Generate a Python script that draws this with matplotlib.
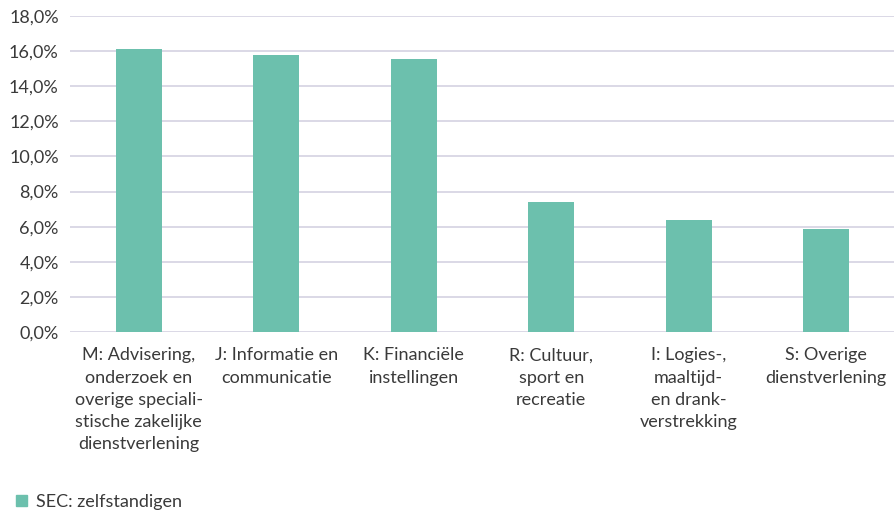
import matplotlib.pyplot as plt
from matplotlib.ticker import FuncFormatter
from matplotlib.patches import Patch

# categories (with the line breaks as in the source chart)
categories = [
    "M: Advisering,\nonderzoek en\noverige speciali-\nstische zakelijke\ndienstverlening",
    "J: Informatie en\ncommunicatie",
    "K: Financiële\ninstellingen",
    "R: Cultuur,\nsport en\nrecreatie",
    "I: Logies-,\nmaaltijd-\nen drank-\nverstrekking",
    "S: Overige\ndienstverlening",
]
values = [16.1, 15.8, 15.55, 7.4, 6.4, 5.85]
series_name = "SEC: zelfstandigen"

bar_color = "#6cc0ad"
text_color = "#3a3a3a"
grid_color = "#d8d6e4"

plt.rcParams["font.family"] = ["Lato", "DejaVu Sans"]

fig = plt.figure(figsize=(8.95, 5.11), dpi=100)
ax = fig.add_axes([0.078, 0.350, 0.922, 0.619])

x = range(len(categories))
ax.bar(x, values, width=0.335, color=bar_color, zorder=3)

ax.set_xlim(-0.5, len(categories) - 0.5)
ax.set_ylim(0, 18)
ax.set_yticks([0, 2, 4, 6, 8, 10, 12, 14, 16, 18])
ax.yaxis.set_major_formatter(FuncFormatter(lambda v, p: f"{v:.1f}%".replace(".", ",")))
ax.grid(axis="y", color=grid_color, linewidth=1.3, zorder=0)

for s in ax.spines.values():
    s.set_visible(False)
ax.tick_params(axis="both", length=0, colors=text_color, labelsize=13)
ax.tick_params(axis="y", pad=8)
ax.tick_params(axis="x", pad=11)
ax.set_xticks(list(x))
ax.set_xticklabels(categories, linespacing=1.48)

fig.legend(handles=[Patch(color=bar_color, label=series_name)],
           loc="lower left", bbox_to_anchor=(0.0, -0.03), frameon=False,
           fontsize=13, handlelength=0.6, handleheight=0.6, handletextpad=0.5,
           labelcolor=text_color)

fig.savefig("out.png", dpi=100)
